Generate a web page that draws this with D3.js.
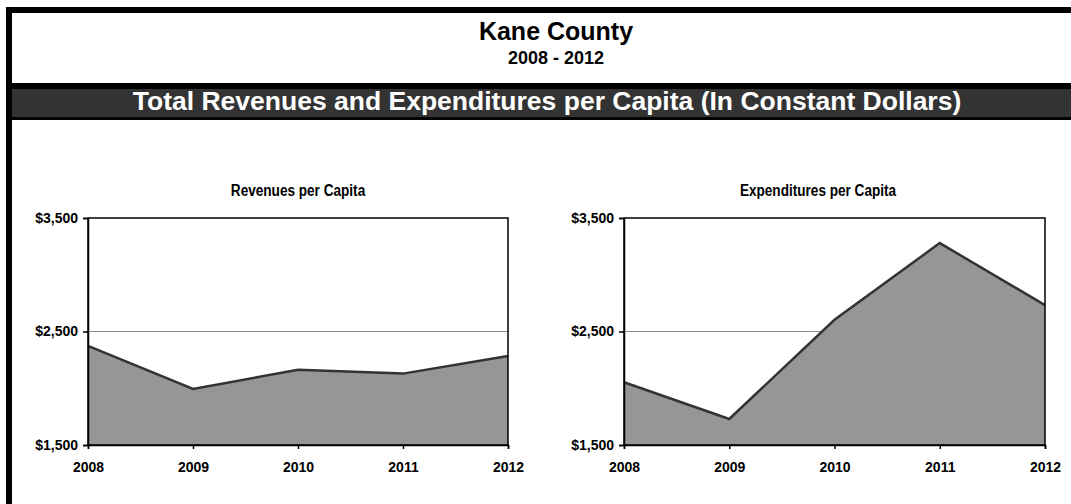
<!DOCTYPE html>
<html><head><meta charset="utf-8">
<script src="https://cdn.jsdelivr.net/npm/d3@7"></script>
<style>
body{margin:0;background:#fff}
svg{display:block}
text{font-family:"Liberation Sans",Arial,sans-serif;font-weight:bold}
</style></head>
<body><svg width="1071" height="504"></svg>
<script>
const years = ["2008","2009","2010","2011","2012"];
const revenues = [2374,1994,2162,2129,2285];
const expenditures = [2053,1729,2603,3279,2732];
const yTicks = [1500,2500,3500];
const chartTitles = ["Revenues per Capita","Expenditures per Capita"];
const mainTitle = "Kane County";
const subTitle = "2008 - 2012";
const bandTitle = "Total Revenues and Expenditures per Capita (In Constant Dollars)";

const svg = d3.select("svg");
svg.append("rect").attr("width",1071).attr("height",504).attr("fill","#fff");

// frame & header
svg.append("rect").attr("x",6).attr("y",7).attr("width",1065).attr("height",6).attr("fill","#000");
svg.append("rect").attr("x",6).attr("y",7).attr("width",6).attr("height",497).attr("fill","#000");
svg.append("rect").attr("x",6).attr("y",83).attr("width",1065).attr("height",6).attr("fill","#000");
svg.append("rect").attr("x",12).attr("y",89).attr("width",1059).attr("height",28).attr("fill","#333");
svg.append("rect").attr("x",6).attr("y",117).attr("width",1065).attr("height",3).attr("fill","#000");

svg.append("text").attr("x",556).attr("y",40).attr("text-anchor","middle").attr("font-size",25).attr("fill","#000").text(mainTitle);
svg.append("text").attr("x",556).attr("y",64).attr("text-anchor","middle").attr("font-size",18).attr("fill","#000").text(subTitle);
svg.append("text").attr("x",547).attr("y",110).attr("text-anchor","middle").attr("font-size",26.5).attr("fill","#fff").text(bandTitle);

const panels = [
  {x0:88, x1:508, data:revenues, title:chartTitles[0], tx:298},
  {x0:624, x1:1045, data:expenditures, title:chartTitles[1], tx:818}
];
const yTop = 218, yBot = 445;

panels.forEach(p => {
  const x = d3.scalePoint().domain(years).range([p.x0, p.x1]).padding(0);
  const y = d3.scaleLinear().domain([yTicks[0], yTicks[yTicks.length-1]]).range([yBot, yTop]);
  const g = svg.append("g");

  g.append("text").attr("transform",`translate(${p.tx},196) scale(0.8,1)`)
    .attr("text-anchor","middle").attr("font-size",17).attr("fill","#000").text(p.title);

  // gridlines
  g.selectAll(".grid").data(yTicks.slice(1,-1)).join("line")
    .attr("x1",p.x0).attr("x2",p.x1).attr("y1",d=>y(d)).attr("y2",d=>y(d))
    .attr("stroke","#8c8c8c").attr("stroke-width",1);

  const pts = years.map((yr,i)=>({yr, v:p.data[i]}));
  g.append("path").datum(pts)
    .attr("d", d3.area().x(d=>x(d.yr)).y0(yBot).y1(d=>y(d.v)))
    .attr("fill","#969696");
  g.append("path").datum(pts)
    .attr("d", d3.line().x(d=>x(d.yr)).y(d=>y(d.v)))
    .attr("fill","none").attr("stroke","#333").attr("stroke-width",2.5).attr("stroke-linejoin","miter");

  // plot border
  g.append("rect").attr("x",p.x0).attr("y",yTop).attr("width",p.x1-p.x0).attr("height",yBot-yTop)
    .attr("fill","none").attr("stroke","#000").attr("stroke-width",1.5);

  const ya = g.append("g").attr("transform",`translate(${p.x0},0)`)
    .call(d3.axisLeft(y).tickValues(yTicks).tickFormat(d3.format("$,")).tickSize(5).tickPadding(5));
  const xa = g.append("g").attr("transform",`translate(0,${yBot})`)
    .call(d3.axisBottom(x).tickSize(4).tickPadding(13));
  [ya,xa].forEach(a=>{
    a.selectAll("path,line").attr("stroke","#000").attr("stroke-width",1.5);
    a.selectAll("text").attr("font-size",14).attr("fill","#000")
      .attr("font-family",'"Liberation Sans",Arial,sans-serif').attr("font-weight","bold");
  });
});
</script>
</body></html>
